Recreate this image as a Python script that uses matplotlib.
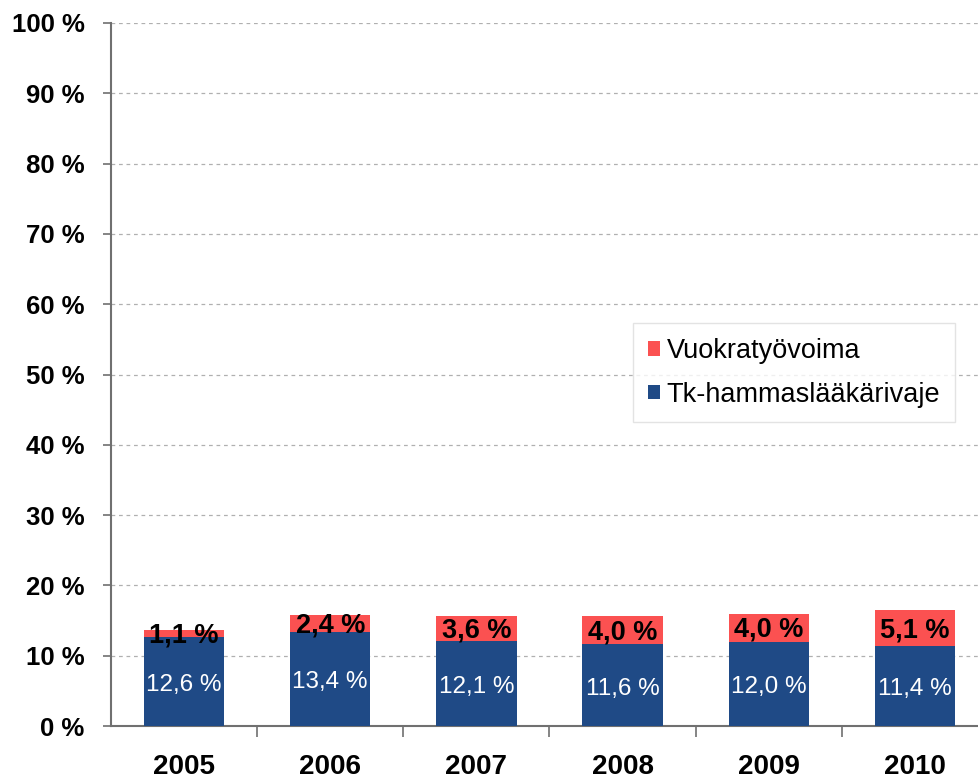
import numpy as np
from matplotlib import pyplot as plt

plt.rcParams['font.family'] = ['Liberation Sans', 'DejaVu Sans']

years = ['2005', '2006', '2007', '2008', '2009', '2010']
vaje = [12.6, 13.4, 12.1, 11.6, 12.0, 11.4]
vuokra = [1.1, 2.4, 3.6, 4.0, 4.0, 5.1]

blue = '#1f4a86'
red = '#fb5151'


def fmt(v):
    return ('%.1f %%' % v).replace('.', ',')


def main():
    fig = plt.figure(figsize=(9.79, 7.81), dpi=100)
    ax = fig.add_axes([111 / 979, 55 / 781, 877 / 979, 703 / 781])

    x = np.arange(len(years))
    w = 0.55
    b1 = ax.bar(x, vaje, w, color=blue, label='Tk-hammaslääkärivaje', zorder=3)
    b2 = ax.bar(x, vuokra, w, bottom=vaje, color=red, label='Vuokratyövoima', zorder=3)

    for i in range(len(years)):
        ax.text(x[i], vaje[i] / 2 - 0.5, fmt(vaje[i]), ha='center', va='center',
                color='white', fontsize=17.5, zorder=4)
        ax.text(x[i], vaje[i] + vuokra[i] / 2 - 0.3, fmt(vuokra[i]), ha='center', va='center',
                color='black', fontsize=19.5, fontweight='bold', zorder=4)

    ax.set_xlim(-0.5, 5.5)
    ax.set_ylim(0, 100)
    ax.set_yticks(np.arange(0, 101, 10))
    ax.set_yticklabels(['%d %%' % v for v in range(0, 101, 10)], fontsize=18.5, fontweight='bold')
    ax.yaxis.grid(True, linestyle=(0, (3, 3)), color='#b0b0b0', linewidth=0.9, zorder=0)

    ax.set_xticks(x)
    ax.set_xticklabels(years, fontsize=20, fontweight='bold')
    ax.tick_params(axis='x', which='major', length=0, pad=20)
    ax.set_xticks(np.arange(0.5, 5.0, 1.0), minor=True)
    ax.tick_params(axis='x', which='minor', length=8, direction='out', color='#707070', width=1.2)
    ax.tick_params(axis='y', length=6, direction='out', color='#707070', width=1.2, pad=13)

    for s in ['top', 'right']:
        ax.spines[s].set_visible(False)
    for s in ['left', 'bottom']:
        ax.spines[s].set_color('#707070')
        ax.spines[s].set_linewidth(1.5)

    handles = [b2, b1]
    leg = ax.legend(handles, [h.get_label() for h in handles], loc='upper left',
                    bbox_to_anchor=(522 / 877, (703 - (323 - 23)) / 703), fontsize=19.5,
                    frameon=True, fancybox=False, edgecolor='#dddddd', handlelength=0.45,
                    handleheight=0.45, handletextpad=0.25, labelspacing=0.65, borderpad=0.55,
                    borderaxespad=0)
    leg.get_frame().set_linewidth(1.0)
    leg.set_zorder(5)

    fig.savefig('out.png', dpi=100)


if __name__ == '__main__':
    main()
